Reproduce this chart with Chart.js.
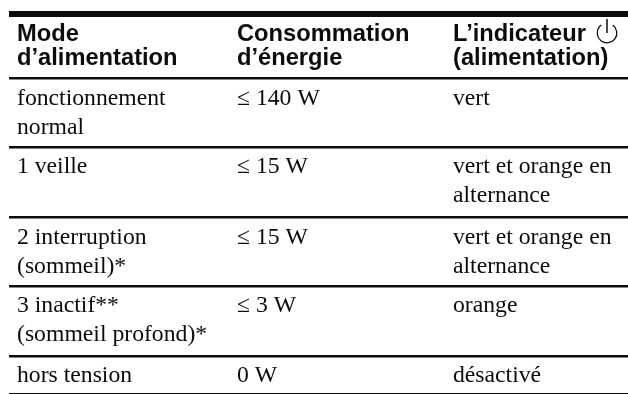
<!DOCTYPE html>
<html>
<head>
<meta charset="utf-8">
<style>
html, body { margin: 0; padding: 0; background: #fff; }
#wrap { width: 628px; height: 394px; }
</style>
<script src="https://cdn.jsdelivr.net/npm/chart.js@4"></script>
</head>
<body>
<div id="wrap"><canvas id="tableChart"></canvas></div>
<script>
// table content, one entry per row, one string per printed line
const headers = [['Mode', 'd’alimentation'], ['Consommation', 'd’énergie'], ['L’indicateur', '(alimentation)']];
const modes = [['fonctionnement', 'normal'], ['1 veille'], ['2 interruption', '(sommeil)*'], ['3 inactif**', '(sommeil profond)*'], ['hors tension']];
const power = [['≤ 140 W'], ['≤ 15 W'], ['≤ 15 W'], ['≤ 3 W'], ['0 W']];
const indicator = [['vert'], ['vert et orange en', 'alternance'], ['vert et orange en', 'alternance'], ['orange'], ['désactivé']];

// layout, in px of the 628x394 picture
const left = 9;
const columnX = [8, 228, 444];
const headerBaseline = 41, headerLine = 24;
const rowBaseline = [105, 173, 244, 312, 382];
const rowLine = 29;
const rules = [14, 78, 147.5, 217, 286, 356, 393.5];
const ruleWidth = [6, 2.5, 2.5, 2.5, 2.5, 2.5, 1.3];
const ink = '#0c0c0c';

const points = (rows, col) => rows.flatMap((lines, r) =>
    lines.map((text, i) => ({ x: columnX[col], y: rowBaseline[r] + i * rowLine, text })));
const headerPoints = headers.flatMap((lines, c) =>
    lines.map((text, i) => ({ x: columnX[c], y: headerBaseline + i * headerLine, text })));

const cellText = {
    id: 'cellText',
    afterDatasetsDraw(chart) {
        const ctx = chart.ctx;
        ctx.save();
        ctx.fillStyle = ink;
        ctx.textBaseline = 'alphabetic';
        chart.data.datasets.forEach((ds, i) => {
            ctx.font = ds.font;
            chart.getDatasetMeta(i).data.forEach((el, j) => ctx.fillText(ds.data[j].text, el.x, el.y));
        });
        // power symbol after the third header
        const cx = chart.scales.x.getPixelForValue(598), cy = chart.scales.y.getPixelForValue(33);
        ctx.strokeStyle = ink;
        ctx.lineWidth = 1.3;
        ctx.beginPath();
        ctx.arc(cx, cy, 9.8, -Math.PI / 2 + 0.63, -Math.PI / 2 - 0.63);
        ctx.stroke();
        ctx.beginPath();
        ctx.moveTo(cx, cy - 14);
        ctx.lineTo(cx, cy);
        ctx.lineWidth = 1.5;
        ctx.stroke();
        ctx.restore();
    }
};

new Chart(document.getElementById('tableChart'), {
    type: 'scatter',
    data: {
        datasets: [
            { data: headerPoints, font: 'bold 23.7px "Liberation Sans"', pointRadius: 0 },
            { data: points(modes, 0), font: '23.7px "Liberation Serif"', pointRadius: 0 },
            { data: points(power, 1), font: '23.7px "Liberation Serif"', pointRadius: 0 },
            { data: points(indicator, 2), font: '23.7px "Liberation Serif"', pointRadius: 0 }
        ]
    },
    options: {
        responsive: true,
        maintainAspectRatio: false,
        animation: false,
        layout: { padding: { left: left, right: 0, top: 0, bottom: 0 } },
        plugins: { legend: { display: false }, tooltip: { enabled: false } },
        scales: {
            x: { display: false, min: 0, max: 628 - left },
            y: {
                reverse: true,
                min: 0,
                max: 394,
                border: { display: false },
                afterBuildTicks: axis => { axis.ticks = rules.map(value => ({ value })); },
                ticks: { display: false, autoSkip: false },
                grid: {
                    drawTicks: false,
                    color: ink,
                    lineWidth: c => ruleWidth[c.index]
                }
            }
        }
    },
    plugins: [cellText]
});
</script>
</body>
</html>
